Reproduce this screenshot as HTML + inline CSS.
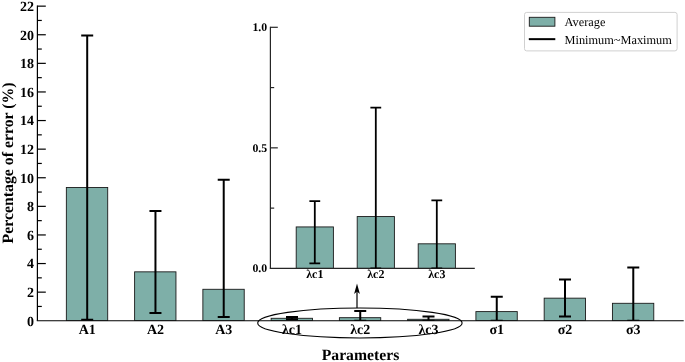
<!DOCTYPE html>
<html lang="en"><head><meta charset="utf-8"><title>Percentage of error by parameter</title>
<style>html,body{margin:0;padding:0;background:#fff}body{width:685px;height:362px;overflow:hidden}svg{display:block}text{text-rendering:geometricPrecision}</style>
</head><body>
<svg width="685" height="362" viewBox="0 0 685 362">
<rect width="685" height="362" fill="#fff"/>
<clipPath id="mc"><rect x="37.4" y="0" width="650" height="320.75"/></clipPath>
<g clip-path="url(#mc)" fill="#7eafa8" stroke="#1a1a1a" stroke-width="0.9">
<rect x="66.35" y="187.47" width="41.35" height="133.28"/>
<rect x="134.61" y="271.84" width="41.35" height="48.91"/>
<rect x="202.87" y="289.29" width="41.35" height="31.46"/>
<rect x="271.13" y="318.29" width="41.35" height="2.46"/>
<rect x="339.39" y="317.68" width="41.35" height="3.07"/>
<rect x="407.65" y="319.29" width="41.35" height="1.46"/>
<rect x="475.91" y="311.60" width="41.35" height="9.15"/>
<rect x="544.17" y="298.16" width="41.35" height="22.59"/>
<rect x="612.43" y="303.30" width="41.35" height="17.45"/>
</g>
<g stroke="#000" stroke-width="1.2" fill="none">
<path d="M37.4 5.55V320.75"/>
<path d="M36.8 320.75H683.7"/>
<path d="M37.4 306.45h4.4"/>
<path d="M37.4 292.15h8.4"/>
<path d="M37.4 277.85h4.4"/>
<path d="M37.4 263.55h8.4"/>
<path d="M37.4 249.25h4.4"/>
<path d="M37.4 234.95h8.4"/>
<path d="M37.4 220.65h4.4"/>
<path d="M37.4 206.35h8.4"/>
<path d="M37.4 192.05h4.4"/>
<path d="M37.4 177.75h8.4"/>
<path d="M37.4 163.45h4.4"/>
<path d="M37.4 149.15h8.4"/>
<path d="M37.4 134.85h4.4"/>
<path d="M37.4 120.55h8.4"/>
<path d="M37.4 106.25h4.4"/>
<path d="M37.4 91.95h8.4"/>
<path d="M37.4 77.65h4.4"/>
<path d="M37.4 63.35h8.4"/>
<path d="M37.4 49.05h4.4"/>
<path d="M37.4 34.75h8.4"/>
<path d="M37.4 20.45h4.4"/>
<path d="M37.4 6.15h8.4"/>
</g>
<g clip-path="url(#mc)" stroke="#000" stroke-width="2" fill="none">
<path d="M87.20 319.75V35.46M81.20 35.46h12M81.20 319.75h12"/>
<path d="M155.46 312.88V211.07M149.46 211.07h12M149.46 312.88h12"/>
<path d="M223.72 316.89V179.75M217.72 179.75h12M217.72 316.89h12"/>
<path d="M291.98 319.32V316.89M285.98 316.89h12M285.98 319.32h12"/>
<path d="M360.24 320.75V311.10M354.24 311.10h12M354.24 320.75h12"/>
<path d="M428.50 320.75V316.60M422.50 316.60h12M422.50 320.75h12"/>
<path d="M496.76 320.75V296.87M490.76 296.87h12M490.76 320.75h12"/>
<path d="M565.02 316.46V279.42M559.02 279.42h12M559.02 316.46h12"/>
<path d="M633.28 320.75V267.41M627.28 267.41h12M627.28 320.75h12"/>
</g>
<g font-family="'Liberation Serif',serif" font-weight="bold" font-size="14" text-anchor="end" fill="#000">
<text x="34.1" y="325.50">0</text>
<text x="34.1" y="296.90">2</text>
<text x="34.1" y="268.30">4</text>
<text x="34.1" y="239.70">6</text>
<text x="34.1" y="211.10">8</text>
<text x="34.1" y="182.50">10</text>
<text x="34.1" y="153.90">12</text>
<text x="34.1" y="125.30">14</text>
<text x="34.1" y="96.70">16</text>
<text x="34.1" y="68.10">18</text>
<text x="34.1" y="39.50">20</text>
<text x="34.1" y="10.90">22</text>
</g>
<g font-family="'Liberation Serif',serif" font-weight="bold" font-size="14" text-anchor="middle" fill="#000">
<text x="87.20" y="333.8">A1</text>
<text x="155.46" y="333.8">A2</text>
<text x="223.72" y="333.8">A3</text>
<text x="291.98" y="333.8">λc1</text>
<text x="360.24" y="333.8">λc2</text>
<text x="428.50" y="333.8">λc3</text>
<text x="496.76" y="333.8">σ1</text>
<text x="565.02" y="333.8">σ2</text>
<text x="633.28" y="333.8">σ3</text>
</g>
<text x="360.5" y="359.8" font-family="'Liberation Serif',serif" font-weight="bold" font-size="15.7" text-anchor="middle">Parameters</text>
<text transform="translate(12.8 162.9) rotate(-90)" font-family="'Liberation Serif',serif" font-weight="bold" font-size="15.8" text-anchor="middle">Percentage of error (%)</text>
<ellipse cx="359.9" cy="322.95" rx="102.2" ry="15" fill="none" stroke="#000" stroke-width="1.1"/>
<path d="M357 307.9V291" stroke="#000" stroke-width="1.2" fill="none"/>
<path d="M357 283.6L359.9 294L357 291.6L354.1 294Z" fill="#000"/>
<g fill="#7eafa8" stroke="#1a1a1a" stroke-width="0.9">
<rect x="296.20" y="226.93" width="37.2" height="41.47"/>
<rect x="357.20" y="216.56" width="37.2" height="51.84"/>
<rect x="418.20" y="243.81" width="37.2" height="24.59"/>
</g>
<g stroke="#262626" stroke-width="1.2" fill="none">
<path d="M270.4 26.70V268.4"/>
<path d="M269.79999999999995 268.4H474.8"/>
<path d="M270.4 27.30h7.4"/>
<path d="M270.4 87.57h3.8"/>
<path d="M270.4 147.85h7.4"/>
<path d="M270.4 208.12h3.8"/>
</g>
<clipPath id="ic"><rect x="270.4" y="0" width="210" height="268.4"/></clipPath>
<g clip-path="url(#ic)" stroke="#000" stroke-width="1.8" fill="none">
<path d="M314.80 263.34V201.13M309.40 201.13h10.8M309.40 263.34h10.8"/>
<path d="M375.80 268.40V107.59M370.40 107.59h10.8M370.40 268.40h10.8"/>
<path d="M436.80 268.40V200.41M431.40 200.41h10.8M431.40 268.40h10.8"/>
</g>
<g font-family="'Liberation Serif',serif" font-weight="bold" font-size="11.8" fill="#000">
<text x="267.2" y="31.10" text-anchor="end">1.0</text>
<text x="267.2" y="151.65" text-anchor="end">0.5</text>
<text x="267.2" y="272.20" text-anchor="end">0.0</text>
<text x="314.80" y="277.6" font-size="12" text-anchor="middle">λc1</text>
<text x="375.80" y="277.6" font-size="12" text-anchor="middle">λc2</text>
<text x="436.80" y="277.6" font-size="12" text-anchor="middle">λc3</text>
</g>
<rect x="524.5" y="12.4" width="152.6" height="38.5" rx="2.2" fill="#fff" stroke="#d0d0d0" stroke-width="1"/>
<rect x="529.3" y="17.3" width="25.6" height="8.9" fill="#7eafa8" stroke="#1a1a1a" stroke-width="0.9"/>
<path d="M528.8 39.15H555.3" stroke="#000" stroke-width="2"/>
<g font-family="'Liberation Serif',serif" font-size="12.32" fill="#000">
<text x="564.6" y="25.9">Average</text>
<text x="564.6" y="43.6">Minimum~Maximum</text>
</g>
</svg>
</body></html>
